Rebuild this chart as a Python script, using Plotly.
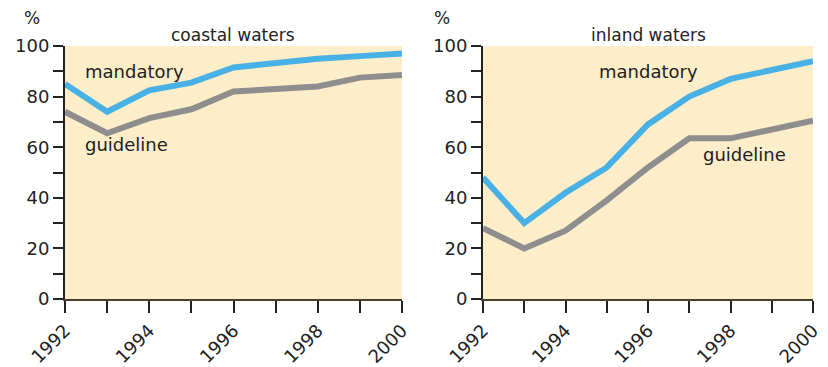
import plotly.graph_objects as go
from plotly.subplots import make_subplots

years = [1992, 1993, 1994, 1995, 1996, 1997, 1998, 1999, 2000]
coastal_mandatory = [85, 74, 82.5, 85.5, 91.5, 93.5, 95, 96, 97]
coastal_guideline = [74, 65.5, 71.5, 75, 82, 83, 84, 87.5, 88.5]
inland_mandatory = [48, 30, 42, 52, 69, 80, 87, 90.5, 94]
inland_guideline = [28, 20, 27, 39, 52, 63.5, 63.5, 67, 70.5]
panel_titles = ["coastal waters", "inland waters"]
y_tickvals = list(range(0, 101, 10))
y_ticktext = [str(v) if v % 20 == 0 else "" for v in y_tickvals]
x_tickvals = years
x_ticktext = [str(y) if y % 2 == 0 else "" for y in years]

BLUE = "#47B0E5"
GRAY = "#8E8E8E"
BG = "#FDEDC8"
FONT = "DejaVu Sans"
TXT = "#222222"

W, H, OFF = 828, 367, 8


def px(x):
    return (x - OFF) / W


def py(y):
    return 1 - (y - OFF) / H


fig = make_subplots(rows=1, cols=2)

for col, (m, g) in enumerate([(coastal_mandatory, coastal_guideline),
                              (inland_mandatory, inland_guideline)], start=1):
    fig.add_trace(go.Scatter(x=years, y=g, mode="lines",
                             line=dict(color=GRAY, width=6), showlegend=False,
                             cliponaxis=False), row=1, col=col)
    fig.add_trace(go.Scatter(x=years, y=m, mode="lines",
                             line=dict(color=BLUE, width=6), showlegend=False,
                             cliponaxis=False), row=1, col=col)

ydom = [py(299), py(46)]
xdoms = [[px(65), px(402)], [px(483), px(813)]]

axis_common_x = dict(range=[1992, 2000], tickvals=x_tickvals, ticktext=x_ticktext,
                     tickangle=-45, ticks="outside", ticklen=12, tickwidth=2,
                     tickcolor=TXT, showline=True, linecolor="#4a3f2a", linewidth=2,
                     showgrid=False, zeroline=False, automargin=False,
                     tickfont=dict(family=FONT, size=18, color=TXT))
axis_common_y = dict(range=[0, 100], tickvals=y_tickvals, ticktext=y_ticktext,
                     ticks="outside", ticklen=10, tickwidth=2, tickcolor=TXT,
                     showline=True, linecolor=TXT, linewidth=2,
                     showgrid=False, zeroline=False, domain=ydom, automargin=False,
                     tickfont=dict(family=FONT, size=18, color=TXT))

fig.update_layout(
    xaxis=dict(domain=xdoms[0], **axis_common_x),
    xaxis2=dict(domain=xdoms[1], **axis_common_x),
    yaxis=dict(**axis_common_y),
    yaxis2=dict(**axis_common_y),
    plot_bgcolor=BG,
    paper_bgcolor="white",
    width=W, height=H,
    margin=dict(l=0, r=0, t=0, b=0, pad=0, autoexpand=False),
    font=dict(family=FONT, color=TXT),
)

ann = []
tfont = dict(family=FONT, size=17, color=TXT)
for cx, t in zip([233, 648], panel_titles):
    ann.append(dict(x=px(cx), y=py(35), xref="paper", yref="paper", text=t,
                    xanchor="center", yanchor="middle", showarrow=False, font=tfont))
for cx in [32, 442]:
    ann.append(dict(x=px(cx), y=py(18), xref="paper", yref="paper", text="%",
                    xanchor="center", yanchor="middle", showarrow=False,
                    font=dict(family=FONT, size=17, color=TXT)))
lab = dict(family=FONT, size=18, color=TXT)
ann.append(dict(x=1993.64, y=90, xref="x", yref="y", text="mandatory", showarrow=False, font=lab))
ann.append(dict(x=1993.47, y=61, xref="x", yref="y", text="guideline", showarrow=False, font=lab))
ann.append(dict(x=1996.02, y=90, xref="x2", yref="y2", text="mandatory", showarrow=False, font=lab))
ann.append(dict(x=1998.35, y=57, xref="x2", yref="y2", text="guideline", showarrow=False, font=lab))
fig.update_layout(annotations=ann)

fig.write_html("out.html")
